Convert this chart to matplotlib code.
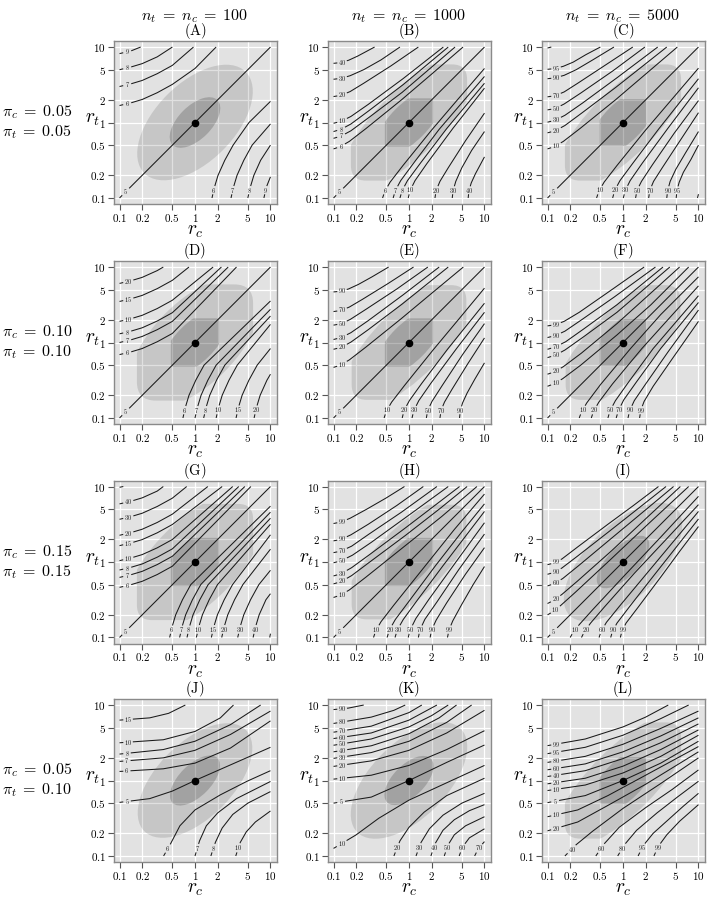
import numpy as np
import matplotlib
matplotlib.use("Agg")
from matplotlib import pyplot as plt
from matplotlib.patches import Ellipse, FancyBboxPatch
from matplotlib.transforms import Affine2D
from matplotlib.ticker import NullLocator

plt.rcParams["mathtext.fontset"] = "cm"
plt.rcParams["font.family"] = ["DejaVu Serif"]

tick_vals = [0.1, 0.2, 0.5, 1, 2, 5, 10]
tick_text = ["0.1", "0.2", "0.5", "1", "2", "5", "10"]
n_cols = ["100", "1000", "5000"]
pi_c_rows = ["0.05", "0.10", "0.15", "0.05"]
pi_t_rows = ["0.05", "0.10", "0.15", "0.10"]
letters = "ABCDEFGHIJKL"

# contour points are (log10 r_c, log10 r_t).
# symmetric panels (pi_c = pi_t): lower-right branch only, upper-left is its mirror
A_lower = {
    "6": [(0.225, -1), (0.26, -0.85), (0.305, -0.7), (0.395, -0.5), (0.505, -0.3), (0.716, 0), (1, 0.28)],
    "7": [(0.477, -1), (0.512, -0.85), (0.557, -0.7), (0.647, -0.5), (0.757, -0.3), (1, -0.02)],
    "8": [(0.70, -1), (0.735, -0.85), (0.78, -0.7), (0.87, -0.5), (1, -0.3)],
    "9": [(0.913, -1), (0.948, -0.85), (1, -0.72)],
}
B_lower = {
    "6": [(-0.35, -1), (-0.32, -0.91), (-0.25, -0.79), (-0.08, -0.57), (0.3, -0.1), (0.65, 0.31), (1, 0.716)],
    "7": [(-0.21, -1), (-0.18, -0.9), (-0.11, -0.77), (0.06, -0.54), (0.4, -0.09), (0.7, 0.26), (1, 0.61)],
    "8": [(-0.12, -1), (-0.09, -0.9), (-0.02, -0.77), (0.15, -0.54), (0.5, -0.08), (1, 0.52)],
    "10": [(-0.01, -1), (0.015, -0.9), (0.08, -0.77), (0.24, -0.54), (0.58, -0.08), (1, 0.455)],
    "20": [(0.344, -1), (0.36, -0.9), (0.41, -0.78), (0.52, -0.6), (0.75, -0.24), (1, 0.124)],
    "30": [(0.573, -1), (0.585, -0.9), (0.62, -0.78), (0.7, -0.6), (0.83, -0.37), (1, -0.12)],
    "40": [(0.784, -1), (0.795, -0.9), (0.825, -0.8), (0.88, -0.68), (1, -0.456)],
}
C_lower = {
    "10": [(-0.35, -1), (-0.32, -0.91), (-0.25, -0.79), (-0.08, -0.57), (0.3, -0.1), (0.65, 0.31), (1, 0.72)],
    "20": [(-0.137, -1), (-0.11, -0.9), (-0.04, -0.77), (0.13, -0.54), (0.47, -0.09), (1, 0.58)],
    "30": [(0.004, -1), (0.03, -0.9), (0.095, -0.77), (0.255, -0.54), (0.6, -0.07), (1, 0.46)],
    "50": [(0.167, -1), (0.185, -0.9), (0.245, -0.78), (0.39, -0.56), (0.68, -0.14), (1, 0.29)],
    "70": [(0.34, -1), (0.355, -0.9), (0.405, -0.78), (0.52, -0.6), (0.75, -0.25), (1, 0.13)],
    "90": [(0.58, -1), (0.592, -0.9), (0.625, -0.78), (0.7, -0.62), (0.83, -0.4), (1, -0.12)],
    "95": [(0.705, -1), (0.715, -0.9), (0.745, -0.79), (0.8, -0.66), (0.9, -0.49), (1, -0.3)],
    "": [(0.987, -1), (1, -0.95)],
}
D_lower = {
    "6": [(-0.16, -1), (-0.125, -0.85), (-0.08, -0.7), (0.01, -0.5), (0.12, -0.3), (1, 0.55)],
    "7": [(0, -1), (0.035, -0.85), (0.08, -0.7), (0.17, -0.5), (0.28, -0.3), (1, 0.44)],
    "8": [(0.115, -1), (0.15, -0.85), (0.195, -0.7), (0.285, -0.5), (0.395, -0.3), (1, 0.35)],
    "10": [(0.28, -1), (0.315, -0.85), (0.36, -0.7), (0.45, -0.5), (0.56, -0.3), (1, 0.24)],
    "15": [(0.544, -1), (0.579, -0.85), (0.624, -0.7), (0.714, -0.5), (0.824, -0.3), (1, -0.08)],
    "20": [(0.783, -1), (0.818, -0.85), (0.863, -0.7), (0.953, -0.5), (1, -0.42)],
}
E_lower = {
    "10": [(-0.33, -1), (-0.3, -0.91), (-0.23, -0.79), (-0.06, -0.57), (0.31, -0.11), (0.66, 0.31), (1, 0.72)],
    "20": [(-0.09, -1), (-0.065, -0.9), (0.005, -0.77), (0.17, -0.54), (0.51, -0.09), (1, 0.52)],
    "30": [(0.04, -1), (0.065, -0.9), (0.13, -0.77), (0.29, -0.54), (0.63, -0.08), (1, 0.4)],
    "50": [(0.23, -1), (0.248, -0.9), (0.305, -0.78), (0.44, -0.57), (0.71, -0.16), (1, 0.25)],
    "70": [(0.41, -1), (0.425, -0.9), (0.47, -0.79), (0.57, -0.62), (0.78, -0.28), (1, 0.06)],
    "90": [(0.67, -1), (0.68, -0.9), (0.71, -0.8), (0.77, -0.67), (0.87, -0.49), (1, -0.27)],
}
F_lower = {
    "10": [(-0.58, -1), (-0.55, -0.92), (-0.48, -0.8), (-0.3, -0.56), (0.1, -0.08), (0.5, 0.37), (1, 0.87)],
    "20": [(-0.42, -1), (-0.39, -0.91), (-0.32, -0.79), (-0.14, -0.55), (0.25, -0.08), (0.62, 0.33), (1, 0.75)],
    "50": [(-0.2, -1), (-0.17, -0.9), (-0.1, -0.77), (0.07, -0.53), (0.4, -0.08), (1, 0.62)],
    "70": [(-0.09, -1), (-0.06, -0.9), (0.01, -0.76), (0.18, -0.52), (0.5, -0.08), (1, 0.53)],
    "90": [(0.066, -1), (0.09, -0.9), (0.15, -0.77), (0.3, -0.55), (0.6, -0.12), (1, 0.43)],
    "99": [(0.22, -1), (0.235, -0.9), (0.28, -0.78), (0.4, -0.58), (0.65, -0.22), (1, 0.28)],
}
G_lower = {
    "6": [(-0.336, -1), (-0.301, -0.85), (-0.256, -0.7), (-0.166, -0.5), (-0.056, -0.3), (1, 0.74)],
    "7": [(-0.204, -1), (-0.169, -0.85), (-0.124, -0.7), (-0.034, -0.5), (0.076, -0.3), (1, 0.66)],
    "8": [(-0.106, -1), (-0.071, -0.85), (-0.026, -0.7), (0.064, -0.5), (0.174, -0.3), (1, 0.58)],
    "10": [(0.018, -1), (0.053, -0.85), (0.098, -0.7), (0.188, -0.5), (0.298, -0.3), (1, 0.5)],
    "15": [(0.217, -1), (0.252, -0.85), (0.297, -0.7), (0.387, -0.5), (0.497, -0.3), (1, 0.36)],
    "20": [(0.354, -1), (0.389, -0.85), (0.434, -0.7), (0.524, -0.5), (0.634, -0.3), (1, 0.17)],
    "30": [(0.566, -1), (0.601, -0.85), (0.646, -0.7), (0.736, -0.5), (0.846, -0.3), (1, -0.11)],
    "40": [(0.77, -1), (0.805, -0.85), (0.85, -0.7), (0.94, -0.5), (1, -0.42)],
    "": [(0.99, -1), (1, -0.95)],
}
H_lower = {
    "10": [(-0.47, -1), (-0.44, -0.91), (-0.37, -0.79), (-0.2, -0.57), (0.2, -0.07), (0.6, 0.43), (1, 0.9)],
    "20": [(-0.29, -1), (-0.26, -0.9), (-0.18, -0.76), (0.0, -0.52), (0.35, -0.05), (0.7, 0.4), (1, 0.77)],
    "30": [(-0.185, -1), (-0.155, -0.9), (-0.075, -0.76), (0.1, -0.52), (0.45, -0.05), (1, 0.67)],
    "50": [(-0.01, -1), (0.015, -0.9), (0.09, -0.75), (0.26, -0.5), (0.6, -0.03), (1, 0.52)],
    "70": [(0.124, -1), (0.145, -0.9), (0.21, -0.76), (0.37, -0.53), (0.66, -0.1), (1, 0.37)],
    "90": [(0.28, -1), (0.3, -0.9), (0.36, -0.77), (0.5, -0.54), (0.75, -0.16), (1, 0.19)],
    "99": [(0.51, -1), (0.53, -0.9), (0.58, -0.78), (0.7, -0.56), (0.85, -0.3), (1, -0.06)],
}
I_lower = {
    "10": [(-0.7, -1), (-0.66, -0.93), (-0.58, -0.83), (-0.4, -0.63), (0, -0.2), (0.5, 0.33), (1, 0.87)],
    "20": [(-0.55, -1), (-0.51, -0.92), (-0.43, -0.81), (-0.25, -0.6), (0.15, -0.15), (0.6, 0.33), (1, 0.76)],
    "60": [(-0.317, -1), (-0.29, -0.92), (-0.22, -0.8), (-0.05, -0.59), (0.3, -0.17), (0.65, 0.25), (1, 0.67)],
    "90": [(-0.163, -1), (-0.14, -0.92), (-0.08, -0.81), (0.08, -0.6), (0.4, -0.19), (0.7, 0.19), (1, 0.57)],
    "99": [(-0.035, -1), (-0.015, -0.92), (0.04, -0.81), (0.2, -0.6), (0.5, -0.2), (0.75, 0.14), (1, 0.47)],
}

# pi_c = 0.05, pi_t = 0.10: no symmetry, every branch listed
J_curves = [
    ("15", [(-1, 0.8), (-0.6, 0.83), (-0.35, 0.89), (-0.128, 1)]),
    ("10", [(-1, 0.5), (-0.42, 0.54), (0, 0.65), (0.336, 0.83), (0.51, 1)]),
    ("8", [(-1, 0.35), (-0.42, 0.41), (0, 0.52), (0.47, 0.74), (0.87, 1)]),
    ("7", [(-1, 0.253), (-0.42, 0.3), (0, 0.4), (0.47, 0.61), (1, 0.92)]),
    ("6", [(-1, 0.12), (-0.42, 0.155), (0, 0.23), (0.47, 0.43), (1, 0.79)]),
    ("5", [(-1, -0.29), (-0.6, -0.24), (-0.3, -0.14), (0, 0), (0.5, 0.22), (1, 0.44)]),
    ("6", [(-0.416, -1), (-0.33, -0.85), (-0.2, -0.6), (0, -0.39), (0.336, -0.19), (0.69, -0.01), (1, 0.13)]),
    ("7", [(0, -1), (0.06, -0.8), (0.15, -0.6), (0.3, -0.43), (0.55, -0.24), (1, -0.013)]),
    ("8", [(0.21, -1), (0.27, -0.82), (0.36, -0.63), (0.5, -0.45), (0.7, -0.3), (1, -0.147)]),
    ("10", [(0.54, -1), (0.6, -0.82), (0.68, -0.68), (0.8, -0.55), (1, -0.404)]),
]
K_curves = [
    ("90", [(-1, 0.94), (-0.8, 0.96), (-0.6, 1)]),
    ("80", [(-1, 0.756), (-0.5, 0.84), (-0.2, 0.93), (-0.05, 1)]),
    ("70", [(-1, 0.64), (-0.5, 0.72), (0, 0.9), (0.17, 1)]),
    ("60", [(-1, 0.556), (-0.5, 0.63), (0, 0.8), (0.37, 1)]),
    ("50", [(-1, 0.467), (-0.5, 0.55), (0, 0.71), (0.3, 0.86), (0.52, 1)]),
    ("40", [(-1, 0.38), (-0.5, 0.46), (0, 0.62), (0.4, 0.83), (0.63, 1)]),
    ("30", [(-1, 0.293), (-0.5, 0.37), (0, 0.52), (0.5, 0.77), (0.83, 1)]),
    ("20", [(-1, 0.187), (-0.5, 0.26), (0, 0.4), (0.5, 0.63), (1, 0.93)]),
    ("10", [(-1, 0.018), (-0.5, 0.07), (0, 0.2), (0.5, 0.41), (1, 0.66)]),
    ("5", [(-1, -0.3), (-0.5, -0.22), (0, 0), (0.5, 0.24), (1, 0.47)]),
    ("10", [(-1, -0.9), (-0.7, -0.72), (-0.4, -0.5), (0, -0.26), (0.5, -0.03), (1, 0.2)]),
    ("20", [(-0.2, -1), (-0.12, -0.8), (0, -0.62), (0.2, -0.42), (0.5, -0.2), (1, 0.03)]),
    ("30", [(0.093, -1), (0.16, -0.82), (0.27, -0.64), (0.45, -0.46), (0.7, -0.3), (1, -0.17)]),
    ("40", [(0.29, -1), (0.35, -0.83), (0.45, -0.66), (0.6, -0.52), (0.8, -0.4), (1, -0.32)]),
    ("50", [(0.467, -1), (0.52, -0.85), (0.6, -0.72), (0.75, -0.6), (1, -0.48)]),
    ("60", [(0.665, -1), (0.71, -0.88), (0.8, -0.76), (1, -0.64)]),
    ("70", [(0.87, -1), (0.92, -0.9), (1, -0.81)]),
]
L_curves = [
    ("99", [(-1, 0.462), (-0.5, 0.55), (0, 0.71), (0.3, 0.84), (0.6, 1)]),
    ("95", [(-1, 0.356), (-0.5, 0.44), (0, 0.6), (0.5, 0.82), (0.87, 1)]),
    ("80", [(-1, 0.24), (-0.5, 0.32), (0, 0.48), (0.5, 0.69), (1, 0.92)]),
    ("60", [(-1, 0.142), (-0.5, 0.22), (0, 0.38), (0.5, 0.59), (1, 0.83)]),
    ("40", [(-1, 0.053), (-0.5, 0.13), (0, 0.29), (0.5, 0.5), (1, 0.75)]),
    ("20", [(-1, -0.044), (-0.5, 0.03), (0, 0.19), (0.5, 0.41), (1, 0.67)]),
    ("10", [(-1, -0.133), (-0.5, -0.06), (0, 0.1), (0.5, 0.32), (1, 0.6)]),
    ("5", [(-1, -0.293), (-0.5, -0.2), (0, 0), (0.5, 0.23), (1, 0.52)]),
    ("10", [(-1, -0.48), (-0.6, -0.39), (-0.2, -0.2), (0.3, 0.07), (1, 0.45)]),
    ("20", [(-1, -0.667), (-0.6, -0.55), (-0.2, -0.33), (0.3, -0.05), (1, 0.38)]),
    ("40", [(-0.77, -1), (-0.62, -0.85), (-0.4, -0.67), (0, -0.37), (0.5, -0.04), (1, 0.3)]),
    ("60", [(-0.36, -1), (-0.25, -0.84), (-0.05, -0.62), (0.3, -0.36), (0.65, -0.12), (1, 0.14)]),
    ("80", [(-0.07, -1), (0.02, -0.85), (0.18, -0.66), (0.45, -0.43), (0.72, -0.22), (1, -0.01)]),
    ("95", [(0.2, -1), (0.27, -0.86), (0.4, -0.7), (0.6, -0.52), (0.8, -0.34), (1, -0.17)]),
    ("99", [(0.41, -1), (0.47, -0.87), (0.58, -0.72), (0.75, -0.54), (1, -0.32)]),
]

sym_lower = {"A": A_lower, "B": B_lower, "C": C_lower, "D": D_lower, "E": E_lower,
             "F": F_lower, "G": G_lower, "H": H_lower, "I": I_lower}
asym_curves = {"J": J_curves, "K": K_curves, "L": L_curves}

# shaded regions in log10 units:
# (square half-width, corner rounding, ellipse semi-major, ellipse semi-minor)
outer_region = {"A": (0.9, 0, 0.95, 0.52), "B": (0.77, 0.2, 1.2, 0.43), "C": (0.77, 0.2, 1.2, 0.43),
                "D": (0.77, 0.25, 1.1, 0.55), "E": (0.76, 0.2, 1.2, 0.45), "F": (0.76, 0.2, 1.2, 0.43),
                "G": (0.77, 0.2, 1.2, 0.55), "H": (0.76, 0.2, 1.2, 0.45), "I": (0.9, 0, 1.0, 0.48),
                "J": (0.9, 0, 0.95, 0.5), "K": (0.9, 0, 0.97, 0.5), "L": (0.77, 0.2, 1.2, 0.43)}
inner_region = {"A": (0.5, 0, 0.42, 0.22), "B": (0.32, 0.04, 0.6, 0.25), "C": (0.31, 0.04, 0.6, 0.26),
                "D": (0.32, 0.04, 0.6, 0.26), "E": (0.32, 0.04, 0.6, 0.25), "F": (0.31, 0.04, 0.6, 0.26),
                "G": (0.32, 0.04, 0.6, 0.27), "H": (0.32, 0.04, 0.6, 0.25), "I": (0.5, 0, 0.45, 0.2),
                "J": (0.5, 0, 0.42, 0.21), "K": (0.5, 0, 0.41, 0.21), "L": (0.31, 0.04, 0.6, 0.26)}

W, H = 709, 898
fig = plt.figure(figsize=(W / 100, H / 100), dpi=100)
col_x = [113.5, 327.5, 541.5]
row_y = [41, 261, 480.5, 699]
S = 163
LIM = 1.08
LINE = dict(color="#1a1a1a", lw=0.75, zorder=4, solid_capstyle="butt")


def draw_contour(ax, pts, label):
    p = np.asarray(pts, float)
    if not label:
        ax.plot(10 ** p[:, 0], 10 ** p[:, 1], **LINE)
        return
    seg = np.diff(p, axis=0)
    cum = np.concatenate([[0], np.cumsum(np.hypot(seg[:, 0], seg[:, 1]))])
    d = seg[0] / np.hypot(*seg[0])
    gap = abs(d[0]) * (0.03 * len(label) + 0.06) + abs(d[1]) * 0.095
    s1, s2 = 0.05, 0.05 + gap

    def at(s):
        return np.array([np.interp(s, cum, p[:, 0]), np.interp(s, cum, p[:, 1])])

    for a, b in [(0, s1), (s2, cum[-1])]:
        if b <= a:
            continue
        mid = p[(cum > a) & (cum < b)]
        q = np.vstack([at(a), mid, at(b)])
        ax.plot(10 ** q[:, 0], 10 ** q[:, 1], **LINE)
    m = at((s1 + s2) / 2)
    ax.text(10 ** m[0], 10 ** m[1], "$%s$" % label, fontsize=4.6,
            ha="center", va="center", zorder=5, color="#1a1a1a")


def draw_region(ax, reg, alpha):
    sq, rnd, a, b = reg
    T = Affine2D().translate(LIM, LIM).scale(1 / (2 * LIM)) + ax.transAxes
    e = Ellipse((0, 0), 2 * a, 2 * b, angle=45, transform=T, fc="black",
                alpha=alpha, ec="none", zorder=2)
    ax.add_patch(e)
    style = "round,pad=0,rounding_size=%g" % rnd if rnd > 0 else "square,pad=0"
    e.set_clip_path(FancyBboxPatch((-sq, -sq), 2 * sq, 2 * sq, boxstyle=style, transform=T))


for k, name in enumerate(letters):
    r, c = divmod(k, 3)
    ax = fig.add_axes([col_x[c] / W, 1 - (row_y[r] + S) / H, S / W, S / H])
    ax.set_xscale("log")
    ax.set_yscale("log")
    ax.set_xlim(10 ** -LIM, 10 ** LIM)
    ax.set_ylim(10 ** -LIM, 10 ** LIM)
    ax.set_facecolor("#e2e2e2")
    ax.set_xticks(tick_vals)
    ax.set_yticks(tick_vals)
    ax.set_xticklabels(["$%s$" % t for t in tick_text])
    ax.set_yticklabels(["$%s$" % t for t in tick_text])
    ax.xaxis.set_minor_locator(NullLocator())
    ax.yaxis.set_minor_locator(NullLocator())
    ax.tick_params(length=4, width=0.8, color="#555555", labelsize=8, pad=1.5)
    ax.grid(True, color="white", lw=0.9)
    ax.set_axisbelow(True)
    for sp in ax.spines.values():
        sp.set_color("#8a8a8a")
        sp.set_linewidth(1.0)

    draw_region(ax, outer_region[name], 0.12)
    draw_region(ax, inner_region[name], 0.18)

    if name in sym_lower:
        draw_contour(ax, [(-1, -1), (1, 1)], "5")
        for lab, pts in sym_lower[name].items():
            draw_contour(ax, pts, lab)
            draw_contour(ax, [(v, u) for u, v in pts], lab)
    else:
        for lab, pts in asym_curves[name]:
            draw_contour(ax, pts, lab)

    ax.plot([1], [1], "o", color="black", ms=4.5, zorder=6)
    ax.set_title(r"$(\mathrm{%s})$" % name, fontsize=10.5, pad=2.5)
    ax.set_xlabel("$r_c$", fontsize=14, labelpad=-1)
    ax.set_ylabel("$r_t$", fontsize=14, rotation=0, ha="center", va="center")
    ax.yaxis.set_label_coords(-0.13, 0.52)

for c in range(3):
    fig.text((col_x[c] + S / 2) / W, 1 - 16 / H, r"$n_t\;=\;n_c\;=\;%s$" % n_cols[c],
             ha="center", va="center", fontsize=11.5)
for r in range(4):
    yc = row_y[r] + S / 2
    fig.text(2 / W, 1 - (yc - 10) / H, r"$\pi_c\;=\;%s$" % pi_c_rows[r],
             ha="left", va="center", fontsize=11.5)
    fig.text(2 / W, 1 - (yc + 10) / H, r"$\pi_t\;=\;%s$" % pi_t_rows[r],
             ha="left", va="center", fontsize=11.5)

fig.savefig("out.png", dpi=100, facecolor="white")
